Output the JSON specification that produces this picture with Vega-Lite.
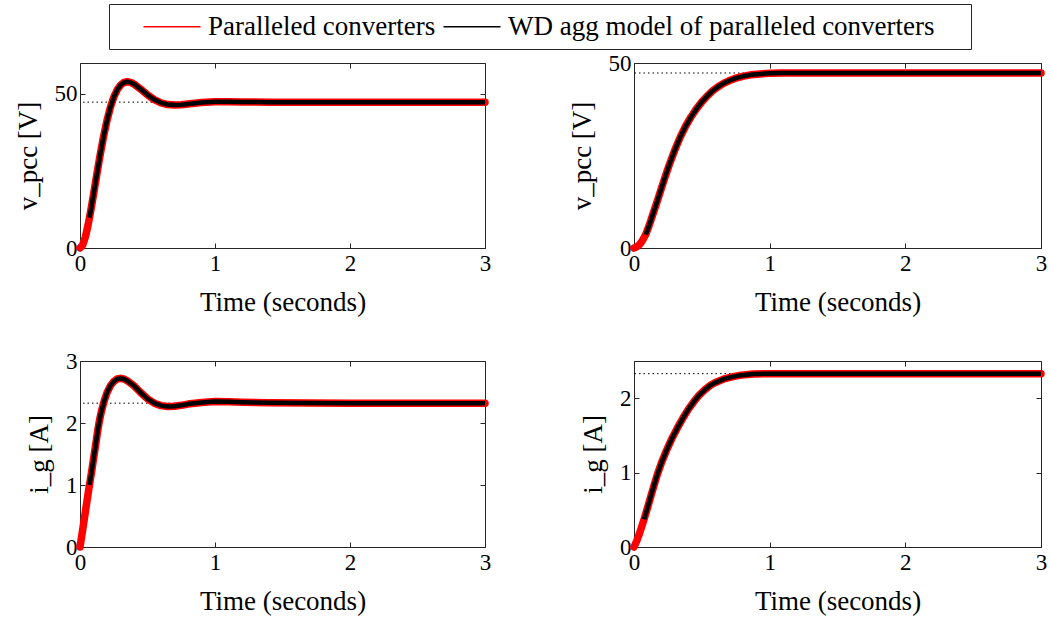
{
  "$schema": "https://vega.github.io/schema/vega-lite/v6.json",
  "padding": {"left": 13, "top": 3, "right": 5, "bottom": 5},
  "background": "white",
  "bounds": "flush",
  "columns": 2,
  "spacing": {"row": 113, "column": 149},
  "datasets": {
    "p1": [
      {"t":0,"y":0,"s":"Paralleled converters"},{"t":0.02,"y":0.99,"s":"Paralleled converters"},{"t":0.04,"y":3.63,"s":"Paralleled converters"},{"t":0.06,"y":7.5,"s":"Paralleled converters"},{"t":0.08,"y":12.17,"s":"Paralleled converters"},{"t":0.1,"y":17.31,"s":"Paralleled converters"},{"t":0.125,"y":23.96,"s":"Paralleled converters"},{"t":0.15,"y":30.38,"s":"Paralleled converters"},{"t":0.175,"y":36.26,"s":"Paralleled converters"},{"t":0.2,"y":41.36,"s":"Paralleled converters"},{"t":0.225,"y":45.59,"s":"Paralleled converters"},{"t":0.25,"y":48.88,"s":"Paralleled converters"},{"t":0.275,"y":51.25,"s":"Paralleled converters"},{"t":0.3,"y":52.83,"s":"Paralleled converters"},{"t":0.325,"y":53.68,"s":"Paralleled converters"},{"t":0.35,"y":53.92,"s":"Paralleled converters"},{"t":0.375,"y":53.71,"s":"Paralleled converters"},{"t":0.4,"y":53.16,"s":"Paralleled converters"},{"t":0.45,"y":51.49,"s":"Paralleled converters"},{"t":0.5,"y":49.67,"s":"Paralleled converters"},{"t":0.55,"y":48.13,"s":"Paralleled converters"},{"t":0.6,"y":47.08,"s":"Paralleled converters"},{"t":0.65,"y":46.53,"s":"Paralleled converters"},{"t":0.7,"y":46.37,"s":"Paralleled converters"},{"t":0.75,"y":46.48,"s":"Paralleled converters"},{"t":0.8,"y":46.71,"s":"Paralleled converters"},{"t":0.9,"y":47.18,"s":"Paralleled converters"},{"t":1.0,"y":47.41,"s":"Paralleled converters"},{"t":1.1,"y":47.41,"s":"Paralleled converters"},{"t":1.2,"y":47.35,"s":"Paralleled converters"},{"t":1.4,"y":47.3,"s":"Paralleled converters"},{"t":2.0,"y":47.3,"s":"Paralleled converters"},{"t":3.0,"y":47.3,"s":"Paralleled converters"},
      {"t":0.07,"y":9.8,"s":"WD agg model of paralleled converters"},{"t":0.08,"y":12.17,"s":"WD agg model of paralleled converters"},{"t":0.1,"y":17.31,"s":"WD agg model of paralleled converters"},{"t":0.125,"y":23.96,"s":"WD agg model of paralleled converters"},{"t":0.15,"y":30.38,"s":"WD agg model of paralleled converters"},{"t":0.175,"y":36.26,"s":"WD agg model of paralleled converters"},{"t":0.2,"y":41.36,"s":"WD agg model of paralleled converters"},{"t":0.225,"y":45.59,"s":"WD agg model of paralleled converters"},{"t":0.25,"y":48.88,"s":"WD agg model of paralleled converters"},{"t":0.275,"y":51.25,"s":"WD agg model of paralleled converters"},{"t":0.3,"y":52.83,"s":"WD agg model of paralleled converters"},{"t":0.325,"y":53.68,"s":"WD agg model of paralleled converters"},{"t":0.35,"y":53.92,"s":"WD agg model of paralleled converters"},{"t":0.375,"y":53.71,"s":"WD agg model of paralleled converters"},{"t":0.4,"y":53.16,"s":"WD agg model of paralleled converters"},{"t":0.45,"y":51.49,"s":"WD agg model of paralleled converters"},{"t":0.5,"y":49.67,"s":"WD agg model of paralleled converters"},{"t":0.55,"y":48.13,"s":"WD agg model of paralleled converters"},{"t":0.6,"y":47.08,"s":"WD agg model of paralleled converters"},{"t":0.65,"y":46.53,"s":"WD agg model of paralleled converters"},{"t":0.7,"y":46.37,"s":"WD agg model of paralleled converters"},{"t":0.75,"y":46.48,"s":"WD agg model of paralleled converters"},{"t":0.8,"y":46.71,"s":"WD agg model of paralleled converters"},{"t":0.9,"y":47.18,"s":"WD agg model of paralleled converters"},{"t":1.0,"y":47.41,"s":"WD agg model of paralleled converters"},{"t":1.1,"y":47.41,"s":"WD agg model of paralleled converters"},{"t":1.2,"y":47.35,"s":"WD agg model of paralleled converters"},{"t":1.4,"y":47.3,"s":"WD agg model of paralleled converters"},{"t":2.0,"y":47.3,"s":"WD agg model of paralleled converters"},{"t":3.0,"y":47.3,"s":"WD agg model of paralleled converters"}
    ],
    "p2": [
      {"t":0,"y":0,"s":"Paralleled converters"},{"t":0.02,"y":0.3,"s":"Paralleled converters"},{"t":0.04,"y":0.9,"s":"Paralleled converters"},{"t":0.06,"y":1.9,"s":"Paralleled converters"},{"t":0.086,"y":3.6,"s":"Paralleled converters"},{"t":0.11,"y":5.9,"s":"Paralleled converters"},{"t":0.14,"y":9.2,"s":"Paralleled converters"},{"t":0.172,"y":12.7,"s":"Paralleled converters"},{"t":0.2,"y":15.9,"s":"Paralleled converters"},{"t":0.23,"y":19.3,"s":"Paralleled converters"},{"t":0.26,"y":22.5,"s":"Paralleled converters"},{"t":0.3,"y":26.4,"s":"Paralleled converters"},{"t":0.34,"y":29.9,"s":"Paralleled converters"},{"t":0.38,"y":32.9,"s":"Paralleled converters"},{"t":0.42,"y":35.4,"s":"Paralleled converters"},{"t":0.46,"y":37.6,"s":"Paralleled converters"},{"t":0.5,"y":39.5,"s":"Paralleled converters"},{"t":0.54,"y":41.1,"s":"Paralleled converters"},{"t":0.58,"y":42.5,"s":"Paralleled converters"},{"t":0.62,"y":43.6,"s":"Paralleled converters"},{"t":0.66,"y":44.5,"s":"Paralleled converters"},{"t":0.7,"y":45.2,"s":"Paralleled converters"},{"t":0.75,"y":45.9,"s":"Paralleled converters"},{"t":0.8,"y":46.4,"s":"Paralleled converters"},{"t":0.86,"y":46.8,"s":"Paralleled converters"},{"t":0.93,"y":47.05,"s":"Paralleled converters"},{"t":1.0,"y":47.2,"s":"Paralleled converters"},{"t":1.1,"y":47.28,"s":"Paralleled converters"},{"t":1.3,"y":47.3,"s":"Paralleled converters"},{"t":2.0,"y":47.3,"s":"Paralleled converters"},{"t":3.0,"y":47.3,"s":"Paralleled converters"},
      {"t":0.086,"y":3.6,"s":"WD agg model of paralleled converters"},{"t":0.11,"y":5.9,"s":"WD agg model of paralleled converters"},{"t":0.14,"y":9.2,"s":"WD agg model of paralleled converters"},{"t":0.172,"y":12.7,"s":"WD agg model of paralleled converters"},{"t":0.2,"y":15.9,"s":"WD agg model of paralleled converters"},{"t":0.23,"y":19.3,"s":"WD agg model of paralleled converters"},{"t":0.26,"y":22.5,"s":"WD agg model of paralleled converters"},{"t":0.3,"y":26.4,"s":"WD agg model of paralleled converters"},{"t":0.34,"y":29.9,"s":"WD agg model of paralleled converters"},{"t":0.38,"y":32.9,"s":"WD agg model of paralleled converters"},{"t":0.42,"y":35.4,"s":"WD agg model of paralleled converters"},{"t":0.46,"y":37.6,"s":"WD agg model of paralleled converters"},{"t":0.5,"y":39.5,"s":"WD agg model of paralleled converters"},{"t":0.54,"y":41.1,"s":"WD agg model of paralleled converters"},{"t":0.58,"y":42.5,"s":"WD agg model of paralleled converters"},{"t":0.62,"y":43.6,"s":"WD agg model of paralleled converters"},{"t":0.66,"y":44.5,"s":"WD agg model of paralleled converters"},{"t":0.7,"y":45.2,"s":"WD agg model of paralleled converters"},{"t":0.75,"y":45.9,"s":"WD agg model of paralleled converters"},{"t":0.8,"y":46.4,"s":"WD agg model of paralleled converters"},{"t":0.86,"y":46.8,"s":"WD agg model of paralleled converters"},{"t":0.93,"y":47.05,"s":"WD agg model of paralleled converters"},{"t":1.0,"y":47.2,"s":"WD agg model of paralleled converters"},{"t":1.1,"y":47.28,"s":"WD agg model of paralleled converters"},{"t":1.3,"y":47.3,"s":"WD agg model of paralleled converters"},{"t":2.0,"y":47.3,"s":"WD agg model of paralleled converters"},{"t":3.0,"y":47.3,"s":"WD agg model of paralleled converters"}
    ],
    "p3": [
      {"t":0,"y":0,"s":"Paralleled converters"},{"t":0.02,"y":0.28,"s":"Paralleled converters"},{"t":0.04,"y":0.57,"s":"Paralleled converters"},{"t":0.06,"y":0.86,"s":"Paralleled converters"},{"t":0.07,"y":1.0,"s":"Paralleled converters"},{"t":0.085,"y":1.2,"s":"Paralleled converters"},{"t":0.1,"y":1.42,"s":"Paralleled converters"},{"t":0.115,"y":1.63,"s":"Paralleled converters"},{"t":0.13,"y":1.86,"s":"Paralleled converters"},{"t":0.145,"y":2.05,"s":"Paralleled converters"},{"t":0.16,"y":2.2,"s":"Paralleled converters"},{"t":0.18,"y":2.36,"s":"Paralleled converters"},{"t":0.2,"y":2.49,"s":"Paralleled converters"},{"t":0.225,"y":2.6,"s":"Paralleled converters"},{"t":0.25,"y":2.67,"s":"Paralleled converters"},{"t":0.275,"y":2.71,"s":"Paralleled converters"},{"t":0.3,"y":2.72,"s":"Paralleled converters"},{"t":0.325,"y":2.71,"s":"Paralleled converters"},{"t":0.35,"y":2.68,"s":"Paralleled converters"},{"t":0.4,"y":2.6,"s":"Paralleled converters"},{"t":0.45,"y":2.49,"s":"Paralleled converters"},{"t":0.5,"y":2.39,"s":"Paralleled converters"},{"t":0.55,"y":2.32,"s":"Paralleled converters"},{"t":0.6,"y":2.28,"s":"Paralleled converters"},{"t":0.65,"y":2.265,"s":"Paralleled converters"},{"t":0.7,"y":2.27,"s":"Paralleled converters"},{"t":0.75,"y":2.285,"s":"Paralleled converters"},{"t":0.8,"y":2.305,"s":"Paralleled converters"},{"t":0.9,"y":2.33,"s":"Paralleled converters"},{"t":1.0,"y":2.345,"s":"Paralleled converters"},{"t":1.1,"y":2.342,"s":"Paralleled converters"},{"t":1.2,"y":2.335,"s":"Paralleled converters"},{"t":1.4,"y":2.325,"s":"Paralleled converters"},{"t":2.0,"y":2.32,"s":"Paralleled converters"},{"t":3.0,"y":2.32,"s":"Paralleled converters"},
      {"t":0.07,"y":1.0,"s":"WD agg model of paralleled converters"},{"t":0.085,"y":1.2,"s":"WD agg model of paralleled converters"},{"t":0.1,"y":1.42,"s":"WD agg model of paralleled converters"},{"t":0.115,"y":1.63,"s":"WD agg model of paralleled converters"},{"t":0.13,"y":1.86,"s":"WD agg model of paralleled converters"},{"t":0.145,"y":2.05,"s":"WD agg model of paralleled converters"},{"t":0.16,"y":2.2,"s":"WD agg model of paralleled converters"},{"t":0.18,"y":2.36,"s":"WD agg model of paralleled converters"},{"t":0.2,"y":2.49,"s":"WD agg model of paralleled converters"},{"t":0.225,"y":2.6,"s":"WD agg model of paralleled converters"},{"t":0.25,"y":2.67,"s":"WD agg model of paralleled converters"},{"t":0.275,"y":2.71,"s":"WD agg model of paralleled converters"},{"t":0.3,"y":2.72,"s":"WD agg model of paralleled converters"},{"t":0.325,"y":2.71,"s":"WD agg model of paralleled converters"},{"t":0.35,"y":2.68,"s":"WD agg model of paralleled converters"},{"t":0.4,"y":2.6,"s":"WD agg model of paralleled converters"},{"t":0.45,"y":2.49,"s":"WD agg model of paralleled converters"},{"t":0.5,"y":2.39,"s":"WD agg model of paralleled converters"},{"t":0.55,"y":2.32,"s":"WD agg model of paralleled converters"},{"t":0.6,"y":2.28,"s":"WD agg model of paralleled converters"},{"t":0.65,"y":2.265,"s":"WD agg model of paralleled converters"},{"t":0.7,"y":2.27,"s":"WD agg model of paralleled converters"},{"t":0.75,"y":2.285,"s":"WD agg model of paralleled converters"},{"t":0.8,"y":2.305,"s":"WD agg model of paralleled converters"},{"t":0.9,"y":2.33,"s":"WD agg model of paralleled converters"},{"t":1.0,"y":2.345,"s":"WD agg model of paralleled converters"},{"t":1.1,"y":2.342,"s":"WD agg model of paralleled converters"},{"t":1.2,"y":2.335,"s":"WD agg model of paralleled converters"},{"t":1.4,"y":2.325,"s":"WD agg model of paralleled converters"},{"t":2.0,"y":2.32,"s":"WD agg model of paralleled converters"},{"t":3.0,"y":2.32,"s":"WD agg model of paralleled converters"}
    ],
    "p4": [
      {"t":0,"y":0,"s":"Paralleled converters"},{"t":0.02,"y":0.08,"s":"Paralleled converters"},{"t":0.04,"y":0.18,"s":"Paralleled converters"},{"t":0.06,"y":0.29,"s":"Paralleled converters"},{"t":0.074,"y":0.37,"s":"Paralleled converters"},{"t":0.1,"y":0.53,"s":"Paralleled converters"},{"t":0.13,"y":0.72,"s":"Paralleled converters"},{"t":0.172,"y":0.975,"s":"Paralleled converters"},{"t":0.2,"y":1.12,"s":"Paralleled converters"},{"t":0.24,"y":1.3,"s":"Paralleled converters"},{"t":0.28,"y":1.46,"s":"Paralleled converters"},{"t":0.32,"y":1.6,"s":"Paralleled converters"},{"t":0.36,"y":1.73,"s":"Paralleled converters"},{"t":0.4,"y":1.85,"s":"Paralleled converters"},{"t":0.44,"y":1.95,"s":"Paralleled converters"},{"t":0.48,"y":2.04,"s":"Paralleled converters"},{"t":0.52,"y":2.11,"s":"Paralleled converters"},{"t":0.56,"y":2.17,"s":"Paralleled converters"},{"t":0.6,"y":2.21,"s":"Paralleled converters"},{"t":0.665,"y":2.26,"s":"Paralleled converters"},{"t":0.73,"y":2.29,"s":"Paralleled converters"},{"t":0.79,"y":2.31,"s":"Paralleled converters"},{"t":0.88,"y":2.325,"s":"Paralleled converters"},{"t":1.0,"y":2.33,"s":"Paralleled converters"},{"t":1.3,"y":2.33,"s":"Paralleled converters"},{"t":2.0,"y":2.33,"s":"Paralleled converters"},{"t":3.0,"y":2.33,"s":"Paralleled converters"},
      {"t":0.074,"y":0.37,"s":"WD agg model of paralleled converters"},{"t":0.1,"y":0.53,"s":"WD agg model of paralleled converters"},{"t":0.13,"y":0.72,"s":"WD agg model of paralleled converters"},{"t":0.172,"y":0.975,"s":"WD agg model of paralleled converters"},{"t":0.2,"y":1.12,"s":"WD agg model of paralleled converters"},{"t":0.24,"y":1.3,"s":"WD agg model of paralleled converters"},{"t":0.28,"y":1.46,"s":"WD agg model of paralleled converters"},{"t":0.32,"y":1.6,"s":"WD agg model of paralleled converters"},{"t":0.36,"y":1.73,"s":"WD agg model of paralleled converters"},{"t":0.4,"y":1.85,"s":"WD agg model of paralleled converters"},{"t":0.44,"y":1.95,"s":"WD agg model of paralleled converters"},{"t":0.48,"y":2.04,"s":"WD agg model of paralleled converters"},{"t":0.52,"y":2.11,"s":"WD agg model of paralleled converters"},{"t":0.56,"y":2.17,"s":"WD agg model of paralleled converters"},{"t":0.6,"y":2.21,"s":"WD agg model of paralleled converters"},{"t":0.665,"y":2.26,"s":"WD agg model of paralleled converters"},{"t":0.73,"y":2.29,"s":"WD agg model of paralleled converters"},{"t":0.79,"y":2.31,"s":"WD agg model of paralleled converters"},{"t":0.88,"y":2.325,"s":"WD agg model of paralleled converters"},{"t":1.0,"y":2.33,"s":"WD agg model of paralleled converters"},{"t":1.3,"y":2.33,"s":"WD agg model of paralleled converters"},{"t":2.0,"y":2.33,"s":"WD agg model of paralleled converters"},{"t":3.0,"y":2.33,"s":"WD agg model of paralleled converters"}
    ],
    "r1": [{"y": 47.3}],
    "r2": [{"y": 47.3}],
    "r3": [{"y": 2.32}],
    "r4": [{"y": 2.33}]
  },
  "concat": [
    {
      "width": 405, "height": 185,
      "layer": [
        {"data": {"name": "r1"}, "mark": {"type": "rule", "color": "black", "strokeWidth": 1, "strokeDash": [1.5, 3]},
         "encoding": {"y": {"field": "y", "type": "quantitative", "scale": {"domain": [0, 60]}, "axis": {"orient": "left", "values": [0, 50], "title": "v_pcc [V]"}}}},
        {"data": {"name": "p1"}, "transform": [{"filter": "datum.s == 'Paralleled converters'"}], "mark": {"type": "line", "strokeWidth": 7.5, "strokeCap": "round", "strokeJoin": "round"},
         "encoding": {"x": {"field": "t", "type": "quantitative", "scale": {"domain": [0, 3]}, "axis": {"orient": "bottom", "values": [0, 1, 2, 3], "title": "Time (seconds)"}},
                      "y": {"field": "y", "type": "quantitative", "scale": {"domain": [0, 60]}, "axis": null},
                      "color": {"field": "s", "type": "nominal", "scale": {"domain": ["Paralleled converters", "WD agg model of paralleled converters"], "range": ["#ff0000", "#000000"]},
                                "legend": {"title": "\u00a0", "labelExpr": "datum.label == 'WD agg model of paralleled converters' ? datum.label + '\u00a0\u00a0\u00a0\u00a0\u200b' : datum.label"}}}},
        {"data": {"name": "p1"}, "transform": [{"filter": "datum.s != 'Paralleled converters'"}], "mark": {"type": "line", "strokeWidth": 4.5, "strokeCap": "butt", "strokeJoin": "round"},
         "encoding": {"x": {"field": "t", "type": "quantitative", "scale": {"domain": [0, 3]}, "axis": {"orient": "top", "values": [0, 1, 2, 3], "labels": false, "title": null}},
                      "y": {"field": "y", "type": "quantitative", "scale": {"domain": [0, 60]}, "axis": {"orient": "right", "values": [0, 50], "labels": false, "title": null}},
                      "color": {"field": "s", "type": "nominal", "scale": {"domain": ["Paralleled converters", "WD agg model of paralleled converters"], "range": ["#ff0000", "#000000"]}}}}
      ],
      "resolve": {"axis": {"x": "independent", "y": "independent"}}
    },
    {
      "width": 407, "height": 185,
      "layer": [
        {"data": {"name": "r2"}, "mark": {"type": "rule", "color": "black", "strokeWidth": 1, "strokeDash": [1.5, 3]},
         "encoding": {"y": {"field": "y", "type": "quantitative", "scale": {"domain": [0, 50]}, "axis": {"orient": "left", "values": [0, 50], "title": "v_pcc [V]"}}}},
        {"data": {"name": "p2"}, "transform": [{"filter": "datum.s == 'Paralleled converters'"}], "mark": {"type": "line", "strokeWidth": 7.5, "strokeCap": "round", "strokeJoin": "round"},
         "encoding": {"x": {"field": "t", "type": "quantitative", "scale": {"domain": [0, 3]}, "axis": {"orient": "bottom", "values": [0, 1, 2, 3], "title": "Time (seconds)"}},
                      "y": {"field": "y", "type": "quantitative", "scale": {"domain": [0, 50]}, "axis": null},
                      "color": {"field": "s", "type": "nominal", "scale": {"domain": ["Paralleled converters", "WD agg model of paralleled converters"], "range": ["#ff0000", "#000000"]}}}},
        {"data": {"name": "p2"}, "transform": [{"filter": "datum.s != 'Paralleled converters'"}], "mark": {"type": "line", "strokeWidth": 4.5, "strokeCap": "butt", "strokeJoin": "round"},
         "encoding": {"x": {"field": "t", "type": "quantitative", "scale": {"domain": [0, 3]}, "axis": {"orient": "top", "values": [0, 1, 2, 3], "labels": false, "title": null}},
                      "y": {"field": "y", "type": "quantitative", "scale": {"domain": [0, 50]}, "axis": {"orient": "right", "values": [0, 50], "labels": false, "title": null}},
                      "color": {"field": "s", "type": "nominal", "scale": {"domain": ["Paralleled converters", "WD agg model of paralleled converters"], "range": ["#ff0000", "#000000"]}}}}
      ],
      "resolve": {"axis": {"x": "independent", "y": "independent"}}
    },
    {
      "width": 405, "height": 186,
      "layer": [
        {"data": {"name": "r3"}, "mark": {"type": "rule", "color": "black", "strokeWidth": 1, "strokeDash": [1.5, 3]},
         "encoding": {"y": {"field": "y", "type": "quantitative", "scale": {"domain": [0, 3]}, "axis": {"orient": "left", "values": [0, 1, 2, 3], "title": "i_g [A]"}}}},
        {"data": {"name": "p3"}, "transform": [{"filter": "datum.s == 'Paralleled converters'"}], "mark": {"type": "line", "strokeWidth": 7.5, "strokeCap": "round", "strokeJoin": "round"},
         "encoding": {"x": {"field": "t", "type": "quantitative", "scale": {"domain": [0, 3]}, "axis": {"orient": "bottom", "values": [0, 1, 2, 3], "title": "Time (seconds)"}},
                      "y": {"field": "y", "type": "quantitative", "scale": {"domain": [0, 3]}, "axis": null},
                      "color": {"field": "s", "type": "nominal", "scale": {"domain": ["Paralleled converters", "WD agg model of paralleled converters"], "range": ["#ff0000", "#000000"]}}}},
        {"data": {"name": "p3"}, "transform": [{"filter": "datum.s != 'Paralleled converters'"}], "mark": {"type": "line", "strokeWidth": 4.5, "strokeCap": "butt", "strokeJoin": "round"},
         "encoding": {"x": {"field": "t", "type": "quantitative", "scale": {"domain": [0, 3]}, "axis": {"orient": "top", "values": [0, 1, 2, 3], "labels": false, "title": null}},
                      "y": {"field": "y", "type": "quantitative", "scale": {"domain": [0, 3]}, "axis": {"orient": "right", "values": [0, 1, 2, 3], "labels": false, "title": null}},
                      "color": {"field": "s", "type": "nominal", "scale": {"domain": ["Paralleled converters", "WD agg model of paralleled converters"], "range": ["#ff0000", "#000000"]}}}}
      ],
      "resolve": {"axis": {"x": "independent", "y": "independent"}}
    },
    {
      "width": 407, "height": 186,
      "layer": [
        {"data": {"name": "r4"}, "mark": {"type": "rule", "color": "black", "strokeWidth": 1, "strokeDash": [1.5, 3]},
         "encoding": {"y": {"field": "y", "type": "quantitative", "scale": {"domain": [0, 2.5]}, "axis": {"orient": "left", "values": [0, 1, 2], "title": "i_g [A]"}}}},
        {"data": {"name": "p4"}, "transform": [{"filter": "datum.s == 'Paralleled converters'"}], "mark": {"type": "line", "strokeWidth": 7.5, "strokeCap": "round", "strokeJoin": "round"},
         "encoding": {"x": {"field": "t", "type": "quantitative", "scale": {"domain": [0, 3]}, "axis": {"orient": "bottom", "values": [0, 1, 2, 3], "title": "Time (seconds)"}},
                      "y": {"field": "y", "type": "quantitative", "scale": {"domain": [0, 2.5]}, "axis": null},
                      "color": {"field": "s", "type": "nominal", "scale": {"domain": ["Paralleled converters", "WD agg model of paralleled converters"], "range": ["#ff0000", "#000000"]}}}},
        {"data": {"name": "p4"}, "transform": [{"filter": "datum.s != 'Paralleled converters'"}], "mark": {"type": "line", "strokeWidth": 4.5, "strokeCap": "butt", "strokeJoin": "round"},
         "encoding": {"x": {"field": "t", "type": "quantitative", "scale": {"domain": [0, 3]}, "axis": {"orient": "top", "values": [0, 1, 2, 3], "labels": false, "title": null}},
                      "y": {"field": "y", "type": "quantitative", "scale": {"domain": [0, 2.5]}, "axis": {"orient": "right", "values": [0, 1, 2], "labels": false, "title": null}},
                      "color": {"field": "s", "type": "nominal", "scale": {"domain": ["Paralleled converters", "WD agg model of paralleled converters"], "range": ["#ff0000", "#000000"]}}}}
      ],
      "resolve": {"axis": {"x": "independent", "y": "independent"}}
    }
  ],
  "resolve": {"scale": {"color": "shared"}, "legend": {"color": "shared"}},
  "config": {
    "font": "Liberation Serif",
    "view": {"stroke": "#262626", "strokeWidth": 1},
    "axis": {"grid": false, "domain": false, "tickColor": "#262626", "tickSize": -5, "tickWidth": 1,
             "labelFont": "Liberation Serif", "labelFontSize": 23, "labelColor": "black", "labelPadding": 9, "labelFlush": false, "labelOverlap": false,
             "titleFont": "Liberation Serif", "titleFontSize": 27, "titleFontWeight": "normal", "titleColor": "black", "format": "d"},
    "axisX": {"titlePadding": 14},
    "axisY": {"titlePadding": 12, "labelPadding": 8},
    "legend": {"orient": "none", "legendX": 29, "legendY": -59, "direction": "horizontal",
               "titleOrient": "left", "titleFontSize": 10, "titlePadding": 22,
               "symbolType": "M-1,0H4.7", "symbolSize": 400, "symbolStrokeWidth": 1.3, "labelFont": "Liberation Serif",
               "labelFontSize": 27, "labelColor": "black", "labelOffset": 41, "columnPadding": 4, "labelLimit": 0,
               "strokeColor": "#262626", "padding": 9, "fillColor": "white"}
  }
}
